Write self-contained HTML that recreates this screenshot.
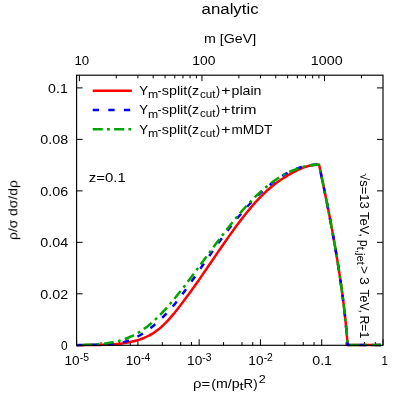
<!DOCTYPE html><html><head><meta charset="utf-8"><style>html,body{margin:0;padding:0;background:#fff}svg{display:block;will-change:transform}text{font-family:"Liberation Sans", sans-serif;fill:#000}</style></head><body>
<svg width="407" height="407" viewBox="0 0 407 407">
<rect width="407" height="407" fill="#fff"/>
<path d="M76.60,345.30 L76.60,339.30 M100.99,345.30 L100.99,342.10 M119.43,345.30 L119.43,342.10 M130.22,345.30 L130.22,342.10 M137.88,345.30 L137.88,339.30 M162.27,345.30 L162.27,342.10 M180.71,345.30 L180.71,342.10 M191.50,345.30 L191.50,342.10 M199.16,345.30 L199.16,339.30 M223.55,345.30 L223.55,342.10 M241.99,345.30 L241.99,342.10 M252.78,345.30 L252.78,342.10 M260.44,345.30 L260.44,339.30 M284.83,345.30 L284.83,342.10 M303.27,345.30 L303.27,342.10 M314.06,345.30 L314.06,342.10 M321.72,345.30 L321.72,339.30 M346.11,345.30 L346.11,342.10 M364.55,345.30 L364.55,342.10 M375.34,345.30 L375.34,342.10 M383.00,345.30 L383.00,339.30 M79.40,75.20 L79.40,81.20 M116.30,75.20 L116.30,78.40 M137.88,75.20 L137.88,78.40 M153.19,75.20 L153.19,78.40 M165.07,75.20 L165.07,78.40 M174.77,75.20 L174.77,78.40 M182.98,75.20 L182.98,78.40 M190.09,75.20 L190.09,78.40 M196.36,75.20 L196.36,78.40 M201.96,75.20 L201.96,81.20 M238.86,75.20 L238.86,78.40 M260.44,75.20 L260.44,78.40 M275.75,75.20 L275.75,78.40 M287.63,75.20 L287.63,78.40 M297.33,75.20 L297.33,78.40 M305.54,75.20 L305.54,78.40 M312.65,75.20 L312.65,78.40 M318.92,75.20 L318.92,78.40 M324.52,75.20 L324.52,81.20 M361.42,75.20 L361.42,78.40 M76.60,293.82 L82.60,293.82 M383.00,293.82 L377.00,293.82 M76.60,242.34 L82.60,242.34 M383.00,242.34 L377.00,242.34 M76.60,190.86 L82.60,190.86 M383.00,190.86 L377.00,190.86 M76.60,139.38 L82.60,139.38 M383.00,139.38 L377.00,139.38 M76.60,87.90 L82.60,87.90 M383.00,87.90 L377.00,87.90" stroke="#000" stroke-width="1" fill="none"/>
<g fill="none" stroke-width="2.5" stroke-linejoin="round">
<path d="M76.60,345.15 C77.10,345.15 78.60,345.15 79.60,345.15 C80.60,345.15 81.60,345.14 82.60,345.13 C83.60,345.12 84.60,345.09 85.60,345.08 C86.60,345.06 87.60,345.05 88.60,345.04 C89.60,345.02 90.60,345.01 91.60,345.00 C92.60,344.99 93.60,344.98 94.60,344.97 C95.60,344.96 96.60,344.95 97.60,344.93 C98.60,344.92 99.60,344.90 100.60,344.88 C101.60,344.86 102.60,344.83 103.60,344.80 C104.60,344.77 105.60,344.74 106.60,344.70 C107.60,344.66 108.60,344.61 109.60,344.56 C110.60,344.51 111.60,344.45 112.60,344.38 C113.60,344.31 114.60,344.23 115.60,344.15 C116.60,344.06 117.60,343.97 118.60,343.86 C119.60,343.75 120.60,343.64 121.60,343.51 C122.60,343.38 123.60,343.24 124.60,343.08 C125.60,342.93 126.60,342.76 127.60,342.58 C128.60,342.40 129.60,342.21 130.60,341.99 C131.60,341.78 132.60,341.56 133.60,341.31 C134.60,341.06 135.60,340.80 136.60,340.51 C137.60,340.22 138.60,339.91 139.60,339.57 C140.60,339.23 141.60,338.87 142.60,338.48 C143.60,338.09 144.60,337.67 145.60,337.21 C146.60,336.76 147.60,336.28 148.60,335.76 C149.60,335.24 150.60,334.68 151.60,334.09 C152.60,333.50 153.60,332.87 154.60,332.19 C155.60,331.52 156.60,330.80 157.60,330.04 C158.60,329.28 159.60,328.48 160.60,327.63 C161.60,326.77 162.60,325.87 163.60,324.92 C164.60,323.97 165.60,322.97 166.60,321.92 C167.60,320.88 168.60,319.78 169.60,318.65 C170.60,317.53 171.60,316.35 172.60,315.16 C173.60,313.97 174.60,312.74 175.60,311.49 C176.60,310.25 177.60,308.97 178.60,307.69 C179.60,306.40 180.60,305.10 181.60,303.79 C182.60,302.48 183.60,301.15 184.60,299.82 C185.60,298.48 186.60,297.13 187.60,295.77 C188.60,294.41 189.60,293.03 190.60,291.65 C191.60,290.26 192.60,288.86 193.60,287.46 C194.60,286.05 195.60,284.63 196.60,283.21 C197.60,281.78 198.60,280.35 199.60,278.91 C200.60,277.47 201.60,276.02 202.60,274.57 C203.60,273.12 204.60,271.66 205.60,270.20 C206.60,268.74 207.60,267.28 208.60,265.81 C209.60,264.35 210.60,262.88 211.60,261.41 C212.60,259.95 213.60,258.48 214.60,257.02 C215.60,255.55 216.60,254.09 217.60,252.63 C218.60,251.17 219.60,249.72 220.60,248.27 C221.60,246.82 222.60,245.37 223.60,243.93 C224.60,242.49 225.60,241.06 226.60,239.63 C227.60,238.21 228.60,236.79 229.60,235.39 C230.60,233.98 231.60,232.59 232.60,231.20 C233.60,229.82 234.60,228.45 235.60,227.09 C236.60,225.73 237.60,224.38 238.60,223.05 C239.60,221.72 240.60,220.40 241.60,219.11 C242.60,217.81 243.60,216.52 244.60,215.26 C245.60,214.00 246.60,212.75 247.60,211.52 C248.60,210.30 249.60,209.09 250.60,207.91 C251.60,206.72 252.60,205.56 253.60,204.42 C254.60,203.28 255.60,202.16 256.60,201.07 C257.60,199.98 258.60,198.91 259.60,197.87 C260.60,196.83 261.60,195.81 262.60,194.83 C263.60,193.84 264.60,192.89 265.60,191.96 C266.60,191.03 267.60,190.13 268.60,189.26 C269.60,188.39 270.60,187.54 271.60,186.72 C272.60,185.90 273.60,185.11 274.60,184.34 C275.60,183.57 276.60,182.82 277.60,182.10 C278.60,181.37 279.60,180.67 280.60,179.99 C281.60,179.31 282.60,178.65 283.60,178.01 C284.60,177.37 285.60,176.75 286.60,176.14 C287.60,175.54 288.60,174.95 289.60,174.38 C290.60,173.80 291.60,173.25 292.60,172.71 C293.60,172.17 294.60,171.64 295.60,171.13 C296.60,170.62 297.60,170.13 298.60,169.67 C299.60,169.20 300.60,168.76 301.60,168.34 C302.60,167.93 303.60,167.54 304.60,167.18 C305.60,166.83 306.60,166.50 307.60,166.21 C308.60,165.92 309.60,165.67 310.60,165.45 C311.60,165.24 312.60,165.07 313.60,164.94 C314.60,164.81 315.68,164.71 316.60,164.69 C317.52,164.67 318.68,164.78 319.10,164.80 L320.66,172.31 L322.23,179.82 L323.78,187.33 L325.30,194.83 L326.81,202.34 L328.29,209.85 L329.73,217.36 L331.15,224.87 L332.54,232.38 L333.88,239.88 L335.19,247.39 L336.46,254.90 L337.69,262.41 L338.87,269.92 L340.00,277.43 L341.08,284.93 L342.11,292.44 L343.09,299.95 L344.00,307.46 L344.86,314.97 L345.65,322.48 L346.38,329.98 L347.04,337.49 L347.63,345.00 L347.73,345.00 L381.00,345.00" stroke="#ff0000"/>
<path d="M76.60,345.15 C77.10,345.14 78.60,345.13 79.60,345.09 C80.60,345.06 81.60,344.99 82.60,344.95 C83.60,344.91 84.60,344.88 85.60,344.86 C86.60,344.84 87.60,344.83 88.60,344.82 C89.60,344.81 90.60,344.81 91.60,344.80 C92.60,344.80 93.60,344.80 94.60,344.80 C95.60,344.80 96.60,344.80 97.60,344.79 C98.60,344.78 99.60,344.77 100.60,344.76 C101.60,344.74 102.60,344.72 103.60,344.69 C104.60,344.66 105.60,344.62 106.60,344.57 C107.60,344.52 108.60,344.46 109.60,344.38 C110.60,344.30 111.60,344.21 112.60,344.11 C113.60,344.00 114.60,343.88 115.60,343.73 C116.60,343.59 117.60,343.43 118.60,343.24 C119.60,343.05 120.60,342.85 121.60,342.62 C122.60,342.38 123.60,342.13 124.60,341.84 C125.60,341.56 126.60,341.25 127.60,340.91 C128.60,340.57 129.60,340.20 130.60,339.80 C131.60,339.40 132.60,338.98 133.60,338.53 C134.60,338.07 135.60,337.59 136.60,337.08 C137.60,336.57 138.60,336.03 139.60,335.47 C140.60,334.90 141.60,334.30 142.60,333.68 C143.60,333.06 144.60,332.41 145.60,331.73 C146.60,331.05 147.60,330.34 148.60,329.61 C149.60,328.87 150.60,328.11 151.60,327.31 C152.60,326.52 153.60,325.70 154.60,324.85 C155.60,324.00 156.60,323.13 157.60,322.22 C158.60,321.32 159.60,320.39 160.60,319.43 C161.60,318.47 162.60,317.48 163.60,316.46 C164.60,315.44 165.60,314.40 166.60,313.33 C167.60,312.26 168.60,311.15 169.60,310.03 C170.60,308.90 171.60,307.74 172.60,306.56 C173.60,305.37 174.60,304.16 175.60,302.92 C176.60,301.68 177.60,300.41 178.60,299.13 C179.60,297.84 180.60,296.53 181.60,295.20 C182.60,293.87 183.60,292.51 184.60,291.15 C185.60,289.78 186.60,288.39 187.60,287.00 C188.60,285.60 189.60,284.19 190.60,282.77 C191.60,281.36 192.60,279.92 193.60,278.49 C194.60,277.06 195.60,275.61 196.60,274.17 C197.60,272.73 198.60,271.28 199.60,269.83 C200.60,268.38 201.60,266.94 202.60,265.49 C203.60,264.05 204.60,262.61 205.60,261.17 C206.60,259.73 207.60,258.30 208.60,256.87 C209.60,255.45 210.60,254.02 211.60,252.61 C212.60,251.19 213.60,249.78 214.60,248.38 C215.60,246.98 216.60,245.58 217.60,244.19 C218.60,242.81 219.60,241.43 220.60,240.06 C221.60,238.69 222.60,237.33 223.60,235.98 C224.60,234.64 225.60,233.30 226.60,231.97 C227.60,230.65 228.60,229.34 229.60,228.04 C230.60,226.74 231.60,225.45 232.60,224.18 C233.60,222.90 234.60,221.64 235.60,220.40 C236.60,219.16 237.60,217.93 238.60,216.72 C239.60,215.51 240.60,214.31 241.60,213.14 C242.60,211.96 243.60,210.80 244.60,209.65 C245.60,208.51 246.60,207.38 247.60,206.28 C248.60,205.17 249.60,204.08 250.60,203.01 C251.60,201.94 252.60,200.88 253.60,199.85 C254.60,198.82 255.60,197.80 256.60,196.81 C257.60,195.81 258.60,194.83 259.60,193.88 C260.60,192.92 261.60,191.99 262.60,191.07 C263.60,190.16 264.60,189.26 265.60,188.39 C266.60,187.52 267.60,186.67 268.60,185.84 C269.60,185.00 270.60,184.20 271.60,183.41 C272.60,182.62 273.60,181.86 274.60,181.12 C275.60,180.37 276.60,179.65 277.60,178.96 C278.60,178.26 279.60,177.59 280.60,176.94 C281.60,176.29 282.60,175.66 283.60,175.06 C284.60,174.46 285.60,173.88 286.60,173.33 C287.60,172.78 288.60,172.25 289.60,171.75 C290.60,171.24 291.60,170.76 292.60,170.31 C293.60,169.86 294.60,169.43 295.60,169.03 C296.60,168.63 297.60,168.26 298.60,167.91 C299.60,167.57 300.60,167.24 301.60,166.95 C302.60,166.66 303.60,166.39 304.60,166.15 C305.60,165.92 306.60,165.70 307.60,165.52 C308.60,165.34 309.60,165.19 310.60,165.06 C311.60,164.94 312.60,164.84 313.60,164.77 C314.60,164.70 315.68,164.65 316.60,164.66 C317.52,164.66 318.68,164.78 319.10,164.80 L320.66,172.31 L322.23,179.82 L323.78,187.33 L325.30,194.83 L326.81,202.34 L328.29,209.85 L329.73,217.36 L331.15,224.87 L332.54,232.38 L333.88,239.88 L335.19,247.39 L336.46,254.90 L337.69,262.41 L338.87,269.92 L340.00,277.43 L341.08,284.93 L342.11,292.44 L343.09,299.95 L344.00,307.46 L344.86,314.97 L345.65,322.48 L346.38,329.98 L347.04,337.49 L347.63,345.00 L347.73,345.00 L381.00,345.00" stroke="#0000ff" stroke-dasharray="6.3 9.27" stroke-dashoffset="0.16"/>
<path d="M76.60,345.15 C77.10,345.14 78.60,345.10 79.60,345.06 C80.60,345.03 81.60,344.99 82.60,344.95 C83.60,344.92 84.60,344.88 85.60,344.85 C86.60,344.81 87.60,344.77 88.60,344.73 C89.60,344.69 90.60,344.64 91.60,344.59 C92.60,344.54 93.60,344.49 94.60,344.43 C95.60,344.37 96.60,344.31 97.60,344.23 C98.60,344.16 99.60,344.07 100.60,343.98 C101.60,343.89 102.60,343.79 103.60,343.68 C104.60,343.56 105.60,343.44 106.60,343.30 C107.60,343.16 108.60,343.02 109.60,342.85 C110.60,342.69 111.60,342.51 112.60,342.31 C113.60,342.12 114.60,341.91 115.60,341.68 C116.60,341.45 117.60,341.20 118.60,340.93 C119.60,340.67 120.60,340.38 121.60,340.08 C122.60,339.77 123.60,339.44 124.60,339.09 C125.60,338.74 126.60,338.37 127.60,337.97 C128.60,337.57 129.60,337.15 130.60,336.70 C131.60,336.25 132.60,335.77 133.60,335.27 C134.60,334.77 135.60,334.24 136.60,333.68 C137.60,333.12 138.60,332.53 139.60,331.91 C140.60,331.29 141.60,330.64 142.60,329.96 C143.60,329.27 144.60,328.56 145.60,327.81 C146.60,327.06 147.60,326.28 148.60,325.46 C149.60,324.65 150.60,323.81 151.60,322.94 C152.60,322.06 153.60,321.16 154.60,320.23 C155.60,319.30 156.60,318.35 157.60,317.36 C158.60,316.38 159.60,315.37 160.60,314.34 C161.60,313.31 162.60,312.26 163.60,311.18 C164.60,310.10 165.60,309.00 166.60,307.88 C167.60,306.76 168.60,305.62 169.60,304.47 C170.60,303.31 171.60,302.13 172.60,300.94 C173.60,299.74 174.60,298.53 175.60,297.31 C176.60,296.08 177.60,294.84 178.60,293.59 C179.60,292.34 180.60,291.07 181.60,289.79 C182.60,288.51 183.60,287.22 184.60,285.92 C185.60,284.62 186.60,283.31 187.60,282.00 C188.60,280.68 189.60,279.35 190.60,278.02 C191.60,276.69 192.60,275.35 193.60,274.01 C194.60,272.67 195.60,271.32 196.60,269.97 C197.60,268.62 198.60,267.27 199.60,265.91 C200.60,264.56 201.60,263.20 202.60,261.84 C203.60,260.49 204.60,259.13 205.60,257.77 C206.60,256.41 207.60,255.06 208.60,253.70 C209.60,252.35 210.60,250.99 211.60,249.64 C212.60,248.30 213.60,246.95 214.60,245.61 C215.60,244.27 216.60,242.93 217.60,241.60 C218.60,240.27 219.60,238.94 220.60,237.62 C221.60,236.30 222.60,234.99 223.60,233.69 C224.60,232.39 225.60,231.09 226.60,229.81 C227.60,228.53 228.60,227.25 229.60,225.99 C230.60,224.72 231.60,223.47 232.60,222.23 C233.60,220.99 234.60,219.76 235.60,218.55 C236.60,217.34 237.60,216.13 238.60,214.95 C239.60,213.76 240.60,212.59 241.60,211.44 C242.60,210.29 243.60,209.15 244.60,208.03 C245.60,206.91 246.60,205.80 247.60,204.72 C248.60,203.64 249.60,202.57 250.60,201.53 C251.60,200.48 252.60,199.46 253.60,198.45 C254.60,197.45 255.60,196.47 256.60,195.51 C257.60,194.55 258.60,193.61 259.60,192.69 C260.60,191.78 261.60,190.88 262.60,190.01 C263.60,189.13 264.60,188.28 265.60,187.46 C266.60,186.63 267.60,185.82 268.60,185.03 C269.60,184.25 270.60,183.49 271.60,182.75 C272.60,182.01 273.60,181.29 274.60,180.59 C275.60,179.90 276.60,179.22 277.60,178.57 C278.60,177.92 279.60,177.29 280.60,176.69 C281.60,176.08 282.60,175.50 283.60,174.94 C284.60,174.38 285.60,173.84 286.60,173.32 C287.60,172.81 288.60,172.31 289.60,171.84 C290.60,171.37 291.60,170.93 292.60,170.50 C293.60,170.08 294.60,169.68 295.60,169.30 C296.60,168.92 297.60,168.56 298.60,168.23 C299.60,167.90 300.60,167.59 301.60,167.30 C302.60,167.02 303.60,166.75 304.60,166.51 C305.60,166.28 306.60,166.06 307.60,165.87 C308.60,165.67 309.60,165.50 310.60,165.36 C311.60,165.21 312.60,165.09 313.60,164.99 C314.60,164.89 315.68,164.80 316.60,164.76 C317.52,164.73 318.68,164.79 319.10,164.80 L320.66,172.31 L322.23,179.82 L323.78,187.33 L325.30,194.83 L326.81,202.34 L328.29,209.85 L329.73,217.36 L331.15,224.87 L332.54,232.38 L333.88,239.88 L335.19,247.39 L336.46,254.90 L337.69,262.41 L338.87,269.92 L340.00,277.43 L341.08,284.93 L342.11,292.44 L343.09,299.95 L344.00,307.46 L344.86,314.97 L345.65,322.48 L346.38,329.98 L347.04,337.49 L347.63,345.00 L347.73,345.00 L381.00,345.00" stroke="#00a600" stroke-dasharray="10 4.38 2.8 4.38" stroke-dashoffset="-5.71"/>
<path d="M92.7,90.7 H131.9" stroke="#ff0000"/>
<path d="M92.7,109.9 H131.9" stroke="#0000ff" stroke-dasharray="6.3 9.3"/>
<path d="M92.7,129.2 H131.9" stroke="#00a600" stroke-dasharray="10 4.3 2.8 4.3"/>
</g>
<rect x="76.60" y="75.20" width="306.40" height="270.10" fill="none" stroke="#000" stroke-width="1.15"/>
<defs><filter id="g" filterUnits="userSpaceOnUse" x="0" y="0" width="407" height="407" color-interpolation-filters="sRGB"><feColorMatrix type="saturate" values="0"/></filter></defs><g filter="url(#g)">
<text x="201.60" y="13.50" font-size="15.20" textLength="57.00" lengthAdjust="spacingAndGlyphs">analytic</text>
<text x="204.10" y="43.00" font-size="12.40" textLength="52.10" lengthAdjust="spacingAndGlyphs">m [GeV]</text>
<text x="48.10" y="92.95" font-size="12.40" textLength="19.70" lengthAdjust="spacingAndGlyphs">0.1</text>
<text x="40.30" y="144.43" font-size="12.40" textLength="27.90" lengthAdjust="spacingAndGlyphs">0.08</text>
<text x="40.30" y="195.91" font-size="12.40" textLength="27.90" lengthAdjust="spacingAndGlyphs">0.06</text>
<text x="40.30" y="247.39" font-size="12.40" textLength="27.90" lengthAdjust="spacingAndGlyphs">0.04</text>
<text x="40.30" y="298.87" font-size="12.40" textLength="27.90" lengthAdjust="spacingAndGlyphs">0.02</text>
<text x="61.10" y="350.35" font-size="12.40" textLength="6.60" lengthAdjust="spacingAndGlyphs">0</text>
<text x="64.50" y="365.20" font-size="12.40" textLength="15.20" lengthAdjust="spacingAndGlyphs">10</text>
<text x="79.80" y="360.50" font-size="10.60" textLength="9.20" lengthAdjust="spacingAndGlyphs">-5</text>
<text x="125.78" y="365.20" font-size="12.40" textLength="15.20" lengthAdjust="spacingAndGlyphs">10</text>
<text x="141.08" y="360.50" font-size="10.60" textLength="9.20" lengthAdjust="spacingAndGlyphs">-4</text>
<text x="187.06" y="365.20" font-size="12.40" textLength="15.20" lengthAdjust="spacingAndGlyphs">10</text>
<text x="202.36" y="360.50" font-size="10.60" textLength="9.20" lengthAdjust="spacingAndGlyphs">-3</text>
<text x="248.34" y="365.20" font-size="12.40" textLength="15.20" lengthAdjust="spacingAndGlyphs">10</text>
<text x="263.64" y="360.50" font-size="10.60" textLength="9.20" lengthAdjust="spacingAndGlyphs">-2</text>
<text x="312.22" y="365.20" font-size="12.40" textLength="19.80" lengthAdjust="spacingAndGlyphs">0.1</text>
<text x="381.60" y="365.20" font-size="12.40" textLength="6.40" lengthAdjust="spacingAndGlyphs">1</text>
<text x="74.50" y="65.00" font-size="12.40" textLength="14.70" lengthAdjust="spacingAndGlyphs">10</text>
<text x="192.20" y="65.00" font-size="12.40" textLength="23.20" lengthAdjust="spacingAndGlyphs">100</text>
<text x="310.80" y="65.00" font-size="12.40" textLength="31.80" lengthAdjust="spacingAndGlyphs">1000</text>
<text x="88.80" y="182.40" font-size="12.40" textLength="37.00" lengthAdjust="spacingAndGlyphs">z=0.1</text>
<text x="139.20" y="95.10" font-size="12.40" textLength="8.80" lengthAdjust="spacingAndGlyphs">Y</text>
<text x="148.00" y="98.20" font-size="10.60" textLength="10.20" lengthAdjust="spacingAndGlyphs">m</text>
<text x="157.50" y="95.10" font-size="12.40" textLength="4.10" lengthAdjust="spacingAndGlyphs">-</text>
<text x="161.80" y="95.10" font-size="12.40" textLength="37.40" lengthAdjust="spacingAndGlyphs">split(z</text>
<text x="199.90" y="97.90" font-size="10.60" textLength="15.50" lengthAdjust="spacingAndGlyphs">cut</text>
<text x="216.00" y="95.10" font-size="12.40" textLength="4.10" lengthAdjust="spacingAndGlyphs">)</text>
<text x="220.90" y="95.10" font-size="12.40" textLength="9.60" lengthAdjust="spacingAndGlyphs">+</text>
<text x="231.60" y="95.10" font-size="12.40" textLength="29.90" lengthAdjust="spacingAndGlyphs">plain</text>
<text x="139.20" y="114.40" font-size="12.40" textLength="8.80" lengthAdjust="spacingAndGlyphs">Y</text>
<text x="148.00" y="117.50" font-size="10.60" textLength="10.20" lengthAdjust="spacingAndGlyphs">m</text>
<text x="157.50" y="114.40" font-size="12.40" textLength="4.10" lengthAdjust="spacingAndGlyphs">-</text>
<text x="161.80" y="114.40" font-size="12.40" textLength="37.40" lengthAdjust="spacingAndGlyphs">split(z</text>
<text x="199.90" y="117.20" font-size="10.60" textLength="15.50" lengthAdjust="spacingAndGlyphs">cut</text>
<text x="216.00" y="114.40" font-size="12.40" textLength="4.10" lengthAdjust="spacingAndGlyphs">)</text>
<text x="220.90" y="114.40" font-size="12.40" textLength="9.60" lengthAdjust="spacingAndGlyphs">+</text>
<text x="231.00" y="114.40" font-size="12.40" textLength="25.50" lengthAdjust="spacingAndGlyphs">trim</text>
<text x="139.20" y="133.70" font-size="12.40" textLength="8.80" lengthAdjust="spacingAndGlyphs">Y</text>
<text x="148.00" y="136.80" font-size="10.60" textLength="10.20" lengthAdjust="spacingAndGlyphs">m</text>
<text x="157.50" y="133.70" font-size="12.40" textLength="4.10" lengthAdjust="spacingAndGlyphs">-</text>
<text x="161.80" y="133.70" font-size="12.40" textLength="37.40" lengthAdjust="spacingAndGlyphs">split(z</text>
<text x="199.90" y="136.50" font-size="10.60" textLength="15.50" lengthAdjust="spacingAndGlyphs">cut</text>
<text x="216.00" y="133.70" font-size="12.40" textLength="4.10" lengthAdjust="spacingAndGlyphs">)</text>
<text x="220.90" y="133.70" font-size="12.40" textLength="9.60" lengthAdjust="spacingAndGlyphs">+</text>
<text x="231.50" y="133.70" font-size="12.40" textLength="40.80" lengthAdjust="spacingAndGlyphs">mMDT</text>
<text x="193.00" y="387.60" font-size="12.40" textLength="17.20" lengthAdjust="spacingAndGlyphs">ρ=</text>
<text x="211.20" y="387.60" font-size="12.40" textLength="28.40" lengthAdjust="spacingAndGlyphs">(m/p</text>
<text x="239.50" y="390.40" font-size="10.60" textLength="4.10" lengthAdjust="spacingAndGlyphs">t</text>
<text x="243.60" y="387.60" font-size="12.40" textLength="14.00" lengthAdjust="spacingAndGlyphs">R)</text>
<text x="258.70" y="383.20" font-size="10.40" textLength="7.00" lengthAdjust="spacingAndGlyphs">2</text>
<g transform="translate(17.3,240.0) rotate(-90)"><text x="0.00" y="0.00" font-size="12.40" textLength="59.80" lengthAdjust="spacingAndGlyphs">ρ/σ dσ/dρ</text></g>
<g transform="translate(360.0,173.2) rotate(90)"><text x="0.00" y="0.00" font-size="12.40" textLength="63.60" lengthAdjust="spacingAndGlyphs">√s=13 TeV,</text><text x="66.80" y="0.00" font-size="12.40" textLength="6.60" lengthAdjust="spacingAndGlyphs">p</text><text x="73.60" y="3.00" font-size="10.60" textLength="18.00" lengthAdjust="spacingAndGlyphs">t,jet</text><text x="92.70" y="0.00" font-size="12.40" textLength="8.00" lengthAdjust="spacingAndGlyphs">&gt;</text><text x="103.80" y="0.00" font-size="12.40" textLength="7.80" lengthAdjust="spacingAndGlyphs">3</text><text x="116.30" y="0.00" font-size="12.40" textLength="23.30" lengthAdjust="spacingAndGlyphs">TeV,</text><text x="142.20" y="0.00" font-size="12.40" textLength="23.00" lengthAdjust="spacingAndGlyphs">R=1</text></g>
</g>
</svg></body></html>
